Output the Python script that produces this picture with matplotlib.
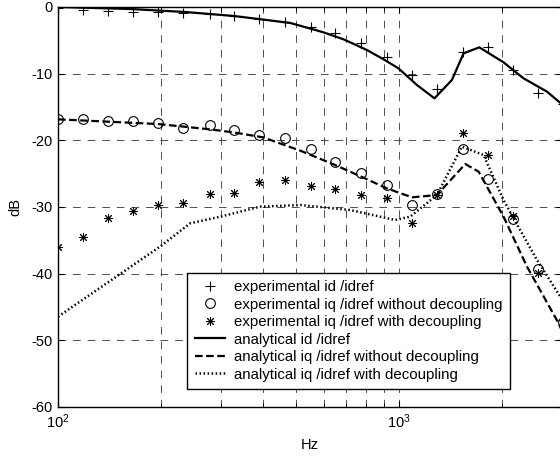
import numpy as np
import matplotlib
matplotlib.use("Agg")
import matplotlib.pyplot as plt

plt.rcParams['font.family'] = ['Liberation Sans', 'DejaVu Sans']
plt.rcParams['mathtext.fontset'] = 'custom'
plt.rcParams['mathtext.rm'] = 'Liberation Sans'
plt.rcParams['mathtext.it'] = 'Liberation Sans'
plt.rcParams['axes.unicode_minus'] = False
plt.rcParams['lines.scale_dashes'] = False

# experimental points (Hz, dB)
f_exp = [100, 118, 140, 166, 197, 233, 278, 327, 389, 463, 550,
         649, 774, 920, 1090, 1290, 1533, 1817, 2152, 2548, 3026]
id_exp = [-0.1, -0.45, -0.55, -0.7, -0.8, -0.95, -1.1, -1.35, -1.75, -2.3, -3.0,
          -3.95, -5.45, -7.5, -10.2, -12.3, -6.7, -5.95, -9.4, -12.9, -14.5]
iq_nodec_exp = [-16.85, -16.85, -17.1, -17.15, -17.45, -18.1, -17.7, -18.45, -19.15, -19.7, -21.3,
                -23.2, -24.85, -26.7, -29.7, -28.05, -21.3, -25.85, -31.8, -39.3, -47.2]
iq_dec_exp = [-36.05, -34.45, -31.7, -30.55, -29.7, -29.35, -28.1, -27.95, -26.3, -25.95, -26.9,
              -27.3, -28.2, -28.7, -32.45, -28.2, -18.95, -22.2, -31.4, -39.95, -47.0]

# analytical curves
f_id = [100, 163, 236, 328, 394, 480, 600, 687, 804, 900, 995, 1127, 1269, 1427, 1544, 1717, 2022, 2314, 2712, 3000]
id_an = [0, -0.3, -0.75, -1.35, -1.85, -2.4, -3.8, -4.85, -6.45, -7.85, -9.2, -11.7, -13.7, -10.95,
         -6.95, -6.05, -8.3, -10.7, -12.7, -14.6]
f_nodec = [100, 196, 279, 326, 399, 513, 649, 774, 920, 1090, 1290, 1562, 1709, 2022, 2369, 2933, 3000]
iq_nodec_an = [-16.85, -17.55, -18.35, -18.8, -19.55, -21.55, -23.7, -25.45, -27.2, -28.55, -28.2,
               -23.55, -24.7, -31.45, -38.95, -47.45, -48.6]
f_dec = [100, 199, 244, 299, 391, 513, 718, 973, 1077, 1290, 1527, 1767, 2022, 2164, 2534, 2966, 3000]
iq_dec_an = [-46.45, -35.95, -32.45, -31.45, -29.95, -29.7, -30.45, -31.95, -31.45, -28.2, -20.95,
             -22.2, -28.95, -31.7, -37.95, -43.45, -43.9]

fig = plt.figure(figsize=(5.6, 4.58), dpi=100)
ax = fig.add_axes([58 / 560, 51 / 458, 504 / 560, 400 / 458])

ax.plot(f_exp, id_exp, 'k+', ms=7.5, mew=0.8, label='experimental id /idref')
ax.plot(f_exp, iq_nodec_exp, 'ko', mfc='none', ms=7, mew=0.8,
        label='experimental iq /idref without decoupling')
ax.plot(f_exp, iq_dec_exp, color='k', ls='none', marker=(8, 2, 0), ms=6.5, mew=0.7,
        label='experimental iq /idref with decoupling')
ax.plot(f_id, id_an, 'k-', lw=1.6, label='analytical id /idref')
ax.plot(f_nodec, iq_nodec_an, color='k', lw=1.6, ls=(0, (5.5, 2.5)),
        label='analytical iq /idref without decoupling')
ax.plot(f_dec, iq_dec_an, color='k', lw=1.8, ls=(0, (1.1, 1.8)),
        label='analytical iq /idref with decoupling')

ax.set_xscale('log')
ax.set_xlim(100, 3000)
ax.set_ylim(-60, 0)
ax.set_yticks(np.arange(-60, 1, 10))
ax.grid(True, which='both', color='0.2', lw=0.6, ls=(0, (5.5, 5)))
ax.tick_params(which='both', direction='in', top=True, right=True, labelsize=10.5, pad=4)
ax.tick_params(which='major', length=4)
ax.tick_params(which='minor', length=3)
for s in ax.spines.values():
    s.set_linewidth(1.0)
ax.set_xlabel('Hz', fontsize=10.5, labelpad=5)
ax.set_ylabel('dB', fontsize=10.5, labelpad=6)

ax.legend(loc='lower left', bbox_to_anchor=(0.256, 0.045), borderaxespad=0,
          fontsize=10.8, frameon=True, fancybox=False, framealpha=1, edgecolor='k',
          handlelength=2.0, handletextpad=0.6, labelspacing=0.23, borderpad=0.5)

fig.savefig('out.png', dpi=100)
